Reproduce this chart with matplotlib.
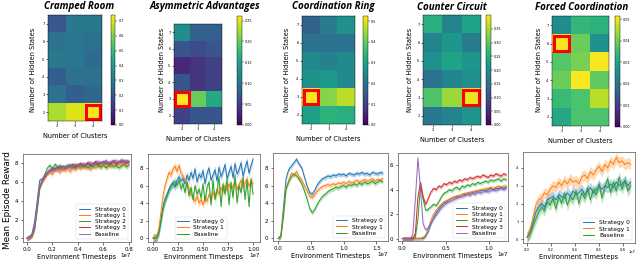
import numpy as np
import matplotlib.pyplot as plt
from matplotlib.patches import Rectangle

# ---- heatmap data (rows: hidden states 2..7, cols: clusters 2,3,4) ----
clusters = [2, 3, 4]
hidden_states = [2, 3, 4, 5, 6, 7]
titles = ['Cramped Room', 'Asymmetric Advantages', 'Coordination Ring',
          'Counter Circuit', 'Forced Coordination']

cramped = [[0.65, 0.70, 0.73],
           [0.28, 0.22, 0.25],
           [0.22, 0.28, 0.28],
           [0.30, 0.29, 0.26],
           [0.28, 0.29, 0.28],
           [0.20, 0.30, 0.30]]
asym = [[0.05, 0.07, 0.07],
        [0.26, 0.20, 0.16],
        [0.07, 0.04, 0.05],
        [0.03, 0.04, 0.05],
        [0.07, 0.06, 0.07],
        [0.13, 0.08, 0.08]]
ring = [[0.30, 0.34, 0.33],
        [0.52, 0.43, 0.47],
        [0.27, 0.28, 0.25],
        [0.25, 0.23, 0.25],
        [0.20, 0.20, 0.20],
        [0.17, 0.22, 0.27]]
counter = [[0.16, 0.18, 0.21],
           [0.29, 0.34, 0.39],
           [0.15, 0.18, 0.20],
           [0.20, 0.23, 0.21],
           [0.18, 0.21, 0.17],
           [0.25, 0.18, 0.23]]
forced = [[0.031, 0.037, 0.037],
          [0.035, 0.037, 0.046],
          [0.040, 0.051, 0.039],
          [0.038, 0.041, 0.051],
          [0.051, 0.040, 0.026],
          [0.025, 0.034, 0.033]]
heat_vmax = [0.74, 0.261, 0.525, 0.40, 0.0515]
heat_ticks = [[0.0, 0.1, 0.2, 0.3, 0.4, 0.5, 0.6, 0.7],
              [0.00, 0.05, 0.10, 0.15, 0.20, 0.25],
              [0.0, 0.1, 0.2, 0.3, 0.4, 0.5],
              [0.00, 0.05, 0.10, 0.15, 0.20, 0.25, 0.30, 0.35],
              [0.00, 0.01, 0.02, 0.03, 0.04, 0.05]]
best_cell = [(4, 2), (2, 3), (2, 3), (4, 3), (2, 6)]

# ---- training curves (x in units of 1e7 timesteps) ----
x_cramped = np.arange(41) * 0.02
cramped_s0 = [0, 0.1, 0.5, 1.8, 4.0, 6.2, 6.3, 6.8, 7.0, 7.3, 7.2, 7.5, 7.4, 7.6, 7.3, 7.5, 7.7, 7.6, 7.8, 7.5, 7.7,
              7.9, 7.6, 7.8, 8.0, 7.7, 7.9, 8.1, 7.8, 8.0, 8.2, 7.9, 8.1, 8.0, 8.2, 7.9, 8.1, 8.3, 8.0, 8.2, 8.1]
cramped_s1 = [0, 0.1, 0.3, 1.2, 3.2, 5.5, 6.0, 6.6, 6.9, 7.1, 6.8, 7.4, 7.2, 7.0, 7.5, 7.2, 7.4, 7.1, 7.5, 7.3, 7.6,
              7.4, 7.7, 7.5, 7.6, 7.3, 7.7, 7.5, 7.8, 7.6, 7.9, 7.7, 7.8, 7.6, 8.0, 7.7, 7.9, 7.8, 8.0, 7.9, 8.1]
cramped_s2 = [0, 0.1, 0.3, 1.0, 3.0, 5.3, 6.2, 6.8, 7.5, 7.8, 7.4, 7.9, 7.6, 7.8, 7.5, 7.7, 7.6, 7.9, 7.5, 7.7, 7.8,
              7.6, 7.9, 7.7, 7.5, 7.8, 7.6, 7.9, 7.7, 7.6, 7.8, 7.5, 7.7, 7.9, 7.6, 7.8, 7.5, 7.7, 7.9, 7.6, 7.8]
cramped_s3 = [0, 0.1, 0.3, 1.1, 3.4, 5.6, 6.1, 6.5, 7.0, 7.2, 7.5, 7.3, 7.6, 7.4, 7.7, 7.5, 7.8, 7.6, 7.9, 7.7, 7.8,
              8.0, 7.7, 7.9, 8.1, 7.8, 8.0, 8.2, 7.9, 8.1, 8.0, 8.2, 7.9, 8.1, 8.3, 8.0, 8.2, 8.1, 8.3, 8.0, 8.2]
cramped_base = [0, 0.1, 0.4, 1.3, 3.5, 5.6, 6.2, 6.7, 7.0, 7.2, 7.4, 7.3, 7.5, 7.4, 7.6, 7.5, 7.8, 7.6, 7.7, 7.9, 7.8,
                7.7, 8.0, 7.8, 7.9, 8.1, 7.9, 8.0, 8.2, 8.0, 8.1, 8.3, 8.0, 8.2, 8.1, 8.3, 8.1, 8.4, 8.2, 8.3, 8.2]

x_asym = np.arange(51) * 0.02
asym_s0 = [0, 0, 0.1, 0.8, 2.2, 3.6, 4.5, 5.0, 5.6, 6.0, 6.3, 5.8, 6.6, 7.0, 6.5, 6.8, 6.2, 7.2, 6.6, 7.5, 6.8, 7.9,
           6.4, 7.3, 6.9, 7.7, 6.2, 7.4, 8.0, 6.6, 7.2, 7.8, 6.5, 8.1, 7.0, 7.6, 8.4, 6.8, 7.5, 8.2, 6.9, 8.5, 7.3,
           7.8, 8.6, 7.1, 8.0, 8.8, 7.4, 8.3, 9.0]
asym_s1 = [0, 0, 0.2, 1.2, 3.0, 4.8, 6.0, 6.8, 7.5, 7.2, 7.9, 8.2, 7.6, 8.3, 7.4, 7.0, 6.6, 6.2, 5.6, 5.0, 4.6, 4.2,
           4.8, 4.0, 4.4, 3.8, 4.6, 4.2, 5.0, 4.4, 5.2, 4.8, 5.6, 5.0, 5.8, 5.3, 6.0, 5.4, 6.2, 5.6, 5.9, 6.4, 5.5,
           6.1, 6.6, 5.7, 6.3, 6.8, 5.9, 6.5, 6.2]
asym_base = [0, 0, 0.1, 0.6, 1.8, 3.2, 4.2, 4.8, 5.4, 5.9, 6.2, 6.5, 6.0, 6.6, 5.6, 6.2, 5.2, 6.4, 4.8, 5.8, 4.4, 6.0,
             5.0, 5.6, 4.6, 6.2, 4.2, 5.8, 6.4, 3.8, 6.6, 4.4, 5.4, 7.0, 3.6, 6.2, 5.0, 6.8, 3.8, 6.4, 4.6, 7.2, 4.0,
             6.0, 5.2, 7.0, 4.4, 6.6, 3.6, 6.8, 5.0]

x_ring = np.arange(41) * 0.04
ring_s0 = [0, 0.3, 3.5, 6.8, 7.8, 8.2, 8.6, 9.0, 8.4, 8.0, 7.0, 6.0, 5.2, 5.0, 5.5, 6.1, 6.5, 6.8, 6.9, 7.1, 7.0,
           7.2, 7.1, 7.3, 7.2, 7.3, 7.1, 7.4, 7.3, 7.2, 7.4, 7.3, 7.5, 7.3, 7.4, 7.2, 7.5, 7.4, 7.3, 7.5, 7.4]
ring_s1 = [0, 0.2, 2.8, 5.8, 6.6, 7.4, 7.2, 7.6, 7.0, 6.6, 6.0, 5.4, 4.8, 4.6, 5.0, 5.4, 5.7, 5.9, 6.0, 6.1, 6.0,
           6.2, 6.1, 6.3, 6.2, 6.4, 6.2, 6.5, 6.3, 6.4, 6.6, 6.4, 6.5, 6.7, 6.5, 6.6, 6.8, 6.5, 6.7, 6.6, 6.8]
ring_base = [0, 0.2, 2.5, 5.6, 6.4, 7.0, 7.3, 7.1, 6.7, 6.2, 5.4, 4.5, 3.4, 2.9, 3.3, 3.9, 4.4, 4.8, 5.0, 5.3, 5.5,
             5.6, 5.8, 5.7, 5.9, 6.0, 5.8, 6.1, 6.0, 6.2, 6.0, 6.3, 6.1, 6.4, 6.2, 6.3, 6.5, 6.2, 6.4, 6.6, 6.4]

x_counter = np.arange(41) * 0.03
counter_s0 = [0, 0, 0, 0, 0, 0, 0, 0, 0, 0.2, 0.6, 1.2, 1.7, 2.1, 2.4, 2.7, 2.9, 3.0, 3.2, 3.3, 3.4, 3.4, 3.5,
              3.6, 3.6, 3.7, 3.7, 3.8, 3.8, 3.9, 3.9, 4.0, 3.9, 4.0, 4.1, 4.0, 4.1, 4.1, 4.2, 4.1, 4.2]
counter_s1 = [0, 0, 0, 0, 0, 0, 0, 0, 0.1, 0.3, 0.8, 1.5, 2.0, 2.3, 2.6, 2.8, 3.0, 3.1, 3.2, 3.3, 3.4, 3.5, 3.5,
              3.6, 3.7, 3.7, 3.8, 3.8, 3.9, 3.9, 4.0, 4.0, 4.1, 4.1, 4.2, 4.1, 4.2, 4.3, 4.2, 4.3, 4.3]
counter_s2 = [0, 0, 0, 0, 0, 0.1, 1.6, 4.4, 3.2, 2.3, 2.4, 2.6, 2.8, 2.7, 3.0, 3.4, 3.7, 3.8, 4.0, 3.9, 4.1, 4.2,
              4.0, 4.3, 4.2, 4.4, 4.3, 4.5, 4.4, 4.6, 4.5, 4.6, 4.7, 4.6, 4.8, 4.7, 4.8, 4.9, 4.7, 4.9, 4.8]
counter_s3 = [0, 0, 0, 0, 0, 0.4, 3.4, 4.6, 3.4, 2.8, 3.3, 3.8, 4.1, 4.0, 4.3, 4.2, 4.5, 4.4, 4.6, 4.5, 4.7, 4.6,
              4.8, 4.7, 4.9, 4.8, 5.0, 4.9, 5.0, 5.1, 5.0, 5.2, 5.1, 5.0, 5.2, 5.1, 5.3, 5.2, 5.1, 5.3, 5.2]
counter_base = [0, 0, 0, 0, 0.3, 3.2, 6.6, 4.0, 1.2, 0.7, 0.9, 1.3, 1.6, 1.9, 2.2, 2.5, 2.7, 2.9, 3.0, 3.1, 3.2,
                3.3, 3.4, 3.4, 3.5, 3.6, 3.5, 3.7, 3.6, 3.8, 3.7, 3.8, 3.9, 3.8, 3.9, 4.0, 3.9, 4.0, 4.1, 4.0, 4.1]

x_forced = np.arange(37) * 0.024
forced_s0 = [0.1, 0.4, 0.9, 1.5, 1.8, 2.0, 1.8, 2.2, 2.3, 2.4, 2.2, 2.5, 2.4, 2.3, 2.6, 2.4, 2.7, 2.5, 2.6, 2.8,
             2.5, 2.7, 2.9, 2.6, 2.8, 3.0, 2.8, 3.0, 2.9, 3.1, 2.9, 3.2, 3.0, 3.1, 3.3, 3.0, 3.2]
forced_s1 = [0.1, 0.5, 1.2, 1.9, 2.2, 2.3, 2.6, 2.5, 2.8, 3.0, 2.9, 3.2, 3.0, 3.3, 3.1, 3.4, 3.2, 3.3, 3.1, 3.5,
             3.6, 3.4, 3.8, 3.6, 3.9, 4.1, 3.8, 4.2, 4.0, 4.4, 4.2, 4.6, 4.3, 4.4, 4.2, 4.3, 4.2]
forced_base = [0.1, 0.3, 0.7, 1.1, 1.5, 1.8, 1.6, 2.1, 1.9, 2.3, 1.7, 2.4, 2.0, 2.6, 1.9, 2.4, 2.2, 2.7, 2.0, 2.6,
               2.3, 2.9, 2.2, 2.8, 2.5, 3.1, 2.3, 2.9, 3.4, 2.6, 3.2, 2.7, 3.5, 2.8, 3.3, 2.7, 3.0]

W, H = 640, 278
fig = plt.figure(figsize=(W / 100, H / 100), dpi=100)


def add_px_axes(l, t, r, b):
    return fig.add_axes([l / W, 1 - b / H, (r - l) / W, (b - t) / H])


# ---- top row: heatmaps ----
heat_data = [cramped, asym, ring, counter, forced]
heat_box = [(48, 15, 102, 121), (174, 24, 222, 124), (302, 16, 355, 124),
            (423, 15, 481, 125), (552, 16, 609, 126)]
cbar_box = [(111, 15, 115.5, 125), (236.5, 16, 241.5, 125), (363, 16, 367.5, 125),
            (486, 15, 490.5, 125), (615, 16, 620, 127)]
ylabel_x = [33, 162, 287, 410, 539]
title_x = [79, 205, 333, 452, 582]

for i in range(5):
    l, t, r, b = heat_box[i]
    ax = add_px_axes(l, t, r, b)
    im = ax.imshow(np.array(heat_data[i]), cmap='viridis', vmin=0, vmax=heat_vmax[i],
                   origin='lower', aspect='auto', extent=[1.5, 4.5, 1.5, 7.5])
    ax.set_xticks(clusters)
    ax.set_yticks(hidden_states)
    ax.tick_params(labelsize=2.6, length=1.5, width=0.4, pad=1)
    for s in ax.spines.values():
        s.set_linewidth(0.3)
    cx, cy = best_cell[i]
    ax.add_patch(Rectangle((cx - 0.41, cy - 0.41), 0.82, 0.82, fill=False,
                           edgecolor='red', linewidth=2.2))
    ax.set_xlabel('Number of Clusters', fontsize=4.8, labelpad=3)
    fig.text(ylabel_x[i] / W, 1 - 70 / H, 'Number of Hidden States', rotation=90,
             fontsize=4.8, ha='center', va='center')
    fig.text(title_x[i] / W, 1 - 7 / H, titles[i], fontsize=7.0, fontweight='bold',
             style='italic', family='Open Sans', ha='center', va='center')

    cl, ct, cr, cb = cbar_box[i]
    cax = add_px_axes(cl, ct, cr, cb)
    cbar = fig.colorbar(im, cax=cax, ticks=heat_ticks[i])
    cbar.ax.set_yticklabels(['%.2f' % v if i in (1, 3, 4) else '%.1f' % v for v in heat_ticks[i]])
    cax.tick_params(labelsize=2.4, length=1.2, width=0.3, pad=1)
    cbar.outline.set_linewidth(0.3)

# ---- bottom row: training curves ----
c_blue, c_orange, c_green, c_red, c_purple = '#1f77b4', '#ff7f0e', '#2ca02c', '#d62728', '#9467bd'

curve_panels = [
    (x_cramped, [cramped_s0, cramped_s1, cramped_s2, cramped_s3, cramped_base],
     ['Strategy 0', 'Strategy 1', 'Strategy 2', 'Strategy 3', 'Baseline'],
     [c_blue, c_orange, c_green, c_red, c_purple]),
    (x_asym, [asym_s0, asym_s1, asym_base], ['Strategy 0', 'Strategy 1', 'Baseline'],
     [c_blue, c_orange, c_green]),
    (x_ring, [ring_s0, ring_s1, ring_base], ['Strategy 0', 'Strategy 1', 'Baseline'],
     [c_blue, c_orange, c_green]),
    (x_counter, [counter_s0, counter_s1, counter_s2, counter_s3, counter_base],
     ['Strategy 0', 'Strategy 1', 'Strategy 2', 'Strategy 3', 'Baseline'],
     [c_blue, c_orange, c_green, c_red, c_purple]),
    (x_forced, [forced_s0, forced_s1, forced_base], ['Strategy 0', 'Strategy 1', 'Baseline'],
     [c_blue, c_orange, c_green]),
]
curve_box = [(23, 154, 131, 242), (148, 154, 260, 242), (273, 153, 388, 241),
             (398, 153, 508, 241), (523, 152, 635, 243)]
xlims = [(-0.031, 0.816), (-0.05, 1.07), (-0.08, 1.68), (-0.05, 1.22), (-0.034, 0.9)]
ylims = [(-0.4, 9.0), (-0.45, 9.6), (-0.3, 9.7), (-0.2, 7.0), (-0.22, 4.9)]
xticks = [[0.0, 0.2, 0.4, 0.6, 0.8], [0.0, 0.25, 0.5, 0.75, 1.0], [0.0, 0.5, 1.0, 1.5],
          [0.0, 0.5, 1.0], [0.0, 0.2, 0.4, 0.6, 0.8]]
band = [0.25, 0.45, 0.25, 0.15, 0.3]
legend_loc = [('lower right', None), ('lower center', (0.47, 0.0)), ('lower right', None),
              ('lower right', None), ('lower right', None)]

for i, (xs, ys, labels, colors) in enumerate(curve_panels):
    l, t, r, b = curve_box[i]
    ax = add_px_axes(l, t, r, b)
    for y, lab, c in zip(ys, labels, colors):
        y = np.array(y)
        ax.fill_between(xs, y - band[i], y + band[i], color=c, alpha=0.3, linewidth=0)
        ax.plot(xs, y, color=c, lw=0.7, label=lab)
    ax.set_xlim(*xlims[i])
    ax.set_ylim(*ylims[i])
    ax.set_xticks(xticks[i])
    if i == 1:
        ax.set_xticklabels(['0.00', '0.25', '0.50', '0.75', '1.00'])
    elif i in (0, 4):
        ax.set_xticklabels(['0.0', '0.2', '0.4', '0.6', '0.8'])
    else:
        ax.set_xticklabels(['%.1f' % v for v in xticks[i]])
    small = 2.6 if i == 4 else 4.0
    ax.tick_params(labelsize=small, length=1.8, width=0.4, pad=1.5)
    ax.text(1.0, -0.13 if i != 4 else -0.08, '1e7', transform=ax.transAxes,
            fontsize=small, ha='right', va='top')
    for s in ax.spines.values():
        s.set_linewidth(0.5)
        s.set_color('#555555')
    ax.set_xlabel('Environment Timesteps', fontsize=4.8, labelpad=2)
    loc, anchor = legend_loc[i]
    kw = dict(loc=loc, fontsize=4.2, handlelength=2.0, labelspacing=0.2,
              borderpad=0.4, framealpha=0.8)
    if anchor is not None:
        kw['bbox_to_anchor'] = anchor
    leg = ax.legend(**kw)
    leg.get_frame().set_linewidth(0.3)

fig.text(8 / W, 1 - 200 / H, 'Mean Episode Reward', rotation=90, fontsize=6.4,
         ha='center', va='center')

fig.savefig('out.png', dpi=100)
